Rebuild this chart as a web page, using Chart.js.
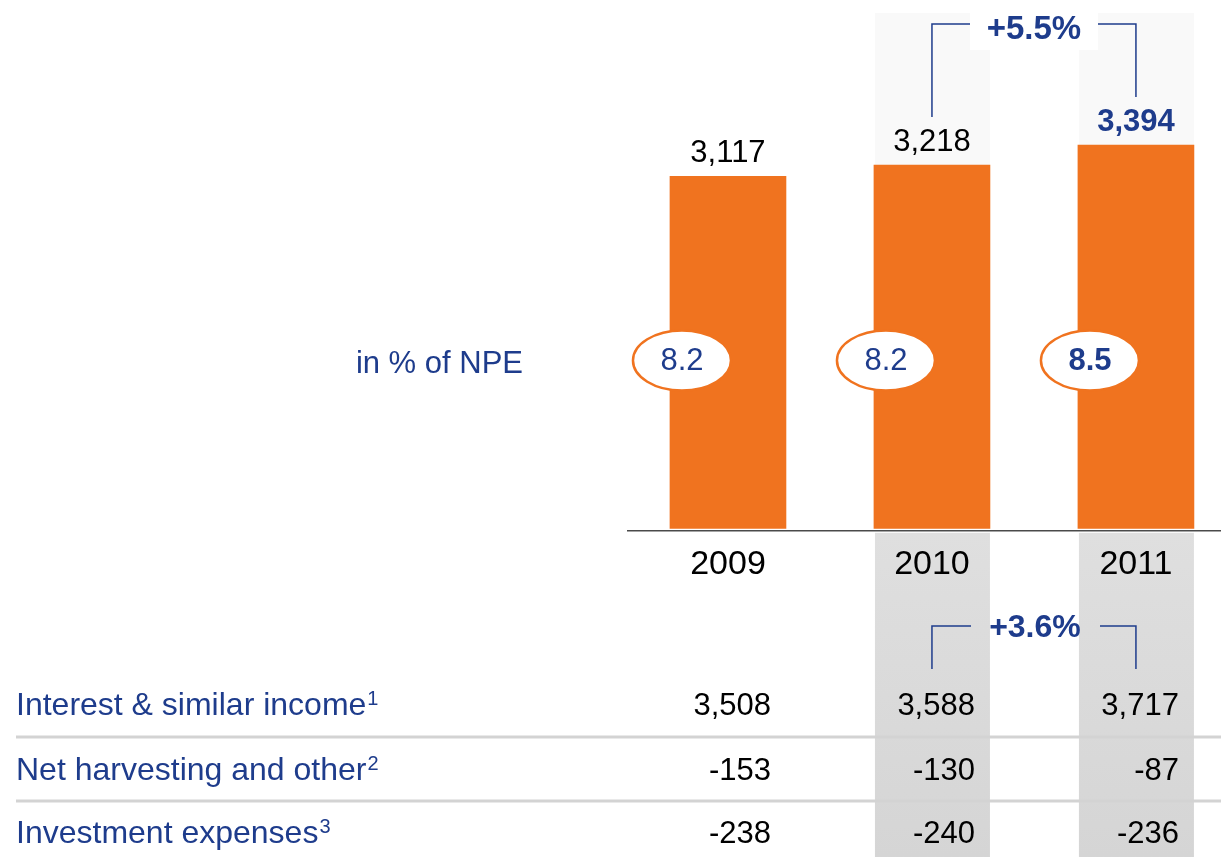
<!DOCTYPE html>
<html>
<head>
<meta charset="utf-8">
<title>Investment result</title>
<script src="https://cdn.jsdelivr.net/npm/chart.js@4.4.1/dist/chart.umd.min.js"></script>
<style>
  html, body { margin: 0; padding: 0; background: #fff; overflow: hidden; }
  #chart { display: block; }
</style>
</head>
<body>
<canvas id="chart" width="1221" height="857"></canvas>
<script>
// Data
const years = ['2009', '2010', '2011'];
const investmentIncome = [3117, 3218, 3394];
const npeRatio = [8.2, 8.2, 8.5];
const interestIncome = [3508, 3588, 3717];
const netHarvesting = [-153, -130, -87];
const investmentExpenses = [-238, -240, -236];
const rowLabels = ['Interest & similar income', 'Net harvesting and other', 'Investment expenses'];
const rowNotes = ['1', '2', '3'];
const incomeGrowth = '+5.5%';
const interestGrowth = '+3.6%';
const highlighted = [1, 2];

const FONT = 'Arial, "Liberation Sans", sans-serif';
const BLUE = '#1e3c8c';
const ORANGE = '#f0731f';

function fmt(v) {
    return v.toLocaleString('en-US');
}

function font(size, bold) {
    return (bold ? 'bold ' : '') + size + 'px ' + FONT;
}

// backgrounds, labels, brackets and the table under the bars
const decorations = {
    id: 'decorations',
    beforeDraw(chart) {
        const ctx = chart.ctx;
        const bars = chart.getDatasetMeta(0).data;
        const base = chart.chartArea.bottom;
        ctx.save();
        highlighted.forEach(i => {
            const left = bars[i].x - bars[i].width / 2;
            const w = bars[i].width;
            ctx.fillStyle = '#f9f9f9';
            ctx.fillRect(left + 1, 13, w - 1, base - 13);
            const g = ctx.createLinearGradient(0, base + 4, 0, chart.height);
            g.addColorStop(0, '#dfdfdf');
            g.addColorStop(1, '#d5d5d5');
            ctx.fillStyle = g;
            ctx.fillRect(left + 1, base + 4, w - 1, chart.height - base - 4);
        });
        // white box behind the growth label on top
        ctx.fillStyle = '#fff';
        ctx.fillRect(bars[1].x + 38, 0, bars[2].x - bars[1].x - 76, 50);
        ctx.restore();
    },
    afterDatasetsDraw(chart) {
        const ctx = chart.ctx;
        const bars = chart.getDatasetMeta(0).data;
        const area = chart.chartArea;
        ctx.save();

        // axis line
        ctx.strokeStyle = '#4a4a4a';
        ctx.lineWidth = 1.5;
        ctx.beginPath();
        ctx.moveTo(area.left, area.bottom + 2);
        ctx.lineTo(chart.width, area.bottom + 2);
        ctx.stroke();

        // values above bars
        ctx.textAlign = 'center';
        ctx.textBaseline = 'alphabetic';
        bars.forEach((bar, i) => {
            const last = i === bars.length - 1;
            ctx.font = font(31, last);
            ctx.fillStyle = last ? BLUE : '#000';
            ctx.fillText(fmt(investmentIncome[i]), bar.x, bar.y - 14.5);
        });

        // NPE ratio ellipses
        const ey = 360.5;
        bars.forEach((bar, i) => {
            const cx = bar.x - 46;
            ctx.beginPath();
            ctx.ellipse(cx, ey, 49, 30, 0, 0, Math.PI * 2);
            ctx.fillStyle = '#fff';
            ctx.fill();
            ctx.strokeStyle = ORANGE;
            ctx.lineWidth = 2.5;
            ctx.stroke();
            ctx.fillStyle = BLUE;
            ctx.font = font(31, i === bars.length - 1);
            ctx.textBaseline = 'middle';
            ctx.fillText(npeRatio[i].toFixed(1), cx, ey + 1);
        });
        ctx.textAlign = 'right';
        ctx.textBaseline = 'alphabetic';
        ctx.font = font(31);
        ctx.fillText('in % of NPE', 523, 372.5);

        // growth brackets
        const x1 = bars[1].x, x2 = bars[2].x;
        const mid = (x1 + x2) / 2;
        ctx.strokeStyle = BLUE;
        ctx.lineWidth = 1.5;
        ctx.beginPath();
        ctx.moveTo(x1, 117); ctx.lineTo(x1, 24); ctx.lineTo(970, 24);
        ctx.moveTo(1098, 24); ctx.lineTo(x2, 24); ctx.lineTo(x2, 97);
        ctx.moveTo(x1, 669); ctx.lineTo(x1, 626); ctx.lineTo(971, 626);
        ctx.moveTo(1100, 626); ctx.lineTo(x2, 626); ctx.lineTo(x2, 669);
        ctx.stroke();
        ctx.fillStyle = BLUE;
        ctx.textAlign = 'center';
        ctx.font = font(33, true);
        ctx.fillText(incomeGrowth, mid, 39);
        ctx.font = font(32, true);
        ctx.fillText(interestGrowth, mid + 1, 637);

        // table
        const rows = [interestIncome, netHarvesting, investmentExpenses];
        const baselines = [715, 780, 843];
        ctx.fillStyle = '#d3d3d3';
        [737, 801].forEach(y => ctx.fillRect(16, y - 1.5, chart.width - 16, 3));
        rows.forEach((vals, r) => {
            const y = baselines[r];
            ctx.textAlign = 'left';
            ctx.fillStyle = BLUE;
            ctx.font = font(32);
            ctx.fillText(rowLabels[r], 16, y);
            const w = ctx.measureText(rowLabels[r]).width;
            ctx.font = font(20);
            ctx.fillText(rowNotes[r], 16 + w + 1, y - 10);
            ctx.textAlign = 'right';
            ctx.fillStyle = '#000';
            ctx.font = font(31);
            vals.forEach((v, i) => ctx.fillText(fmt(v), bars[i].x + 43, y));
        });
        ctx.restore();
    }
};

Chart.defaults.font.family = FONT;

new Chart(document.getElementById('chart'), {
    type: 'bar',
    data: {
        datasets: [{
            data: investmentIncome.map((v, i) => ({ x: i, y: v })),
            backgroundColor: ORANGE,
            borderWidth: 0,
            barThickness: 116
        }]
    },
    options: {
        responsive: false,
        animation: false,
        layout: { padding: { left: 627, right: 0, top: 76.6, bottom: 257.4 } },
        plugins: { legend: { display: false }, tooltip: { enabled: false } },
        scales: {
            x: {
                type: 'linear',
                offset: false,
                min: -0.495,
                max: 2.417,
                grid: { display: false, drawTicks: false },
                border: { display: false },
                afterBuildTicks: scale => { scale.ticks = years.map((_, i) => ({ value: i })); },
                ticks: {
                    callback: v => years[v],
                    color: '#000',
                    font: { size: 34 },
                    padding: 15,
                    maxRotation: 0,
                    autoSkip: false
                }
            },
            y: { display: false, min: 0, max: 4000 }
        }
    },
    plugins: [decorations]
});
</script>
</body>
</html>
